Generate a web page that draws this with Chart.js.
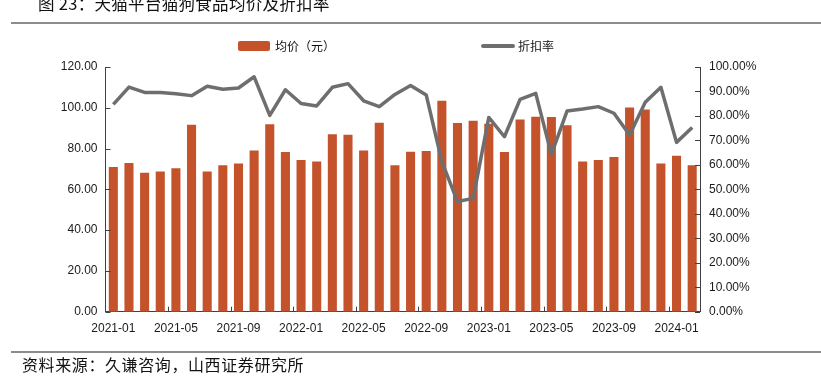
<!DOCTYPE html>
<html>
<head>
<meta charset="utf-8">
<script src="https://cdn.jsdelivr.net/npm/chart.js@4.4.1/dist/chart.umd.min.js"></script>
<style>
	body { margin: 0; background: #fff; }
	#wrap { position: relative; width: 821px; height: 386px; overflow: hidden; font-family: "Noto Sans CJK SC", "Liberation Sans", sans-serif; }
	#box { position: absolute; left: 0; top: 0; width: 821px; height: 386px; }
	.txt { position: absolute; white-space: nowrap; color: #111; }
	.rule { position: absolute; left: 11px; right: 0; height: 2px; background: #8c8c8c; }
</style>
</head>
<body>
<div id="wrap">
	<div id="box"><canvas id="myChart"></canvas></div>
	<div class="txt" id="title" style="left:38px; top:-6px; font-size:16.5px; line-height:18px; letter-spacing:0.3px;">图 23：天猫平台猫狗食品均价及折扣率</div>
	<div class="rule" style="top:22px;"></div>
	<div style="position:absolute; left:238px; top:41px; width:32px; height:10px; background:#C4532C; border-radius:2px;"></div>
	<div class="txt" style="left:275px; top:38px; font-size:12px; line-height:16px;">均价（元）</div>
	<div style="position:absolute; left:481px; top:44px; width:34px; height:4px; background:#6E6E6E; border-radius:2px;"></div>
	<div class="txt" style="left:518px; top:38px; font-size:12px; line-height:16px;">折扣率</div>
	<div class="rule" style="top:351px;"></div>
	<div class="txt" style="left:22px; top:353px; font-size:16px; line-height:22px; letter-spacing:0.6px;">资料来源：久谦咨询，山西证券研究所</div>
</div>
<script>
var months = ['2021-01','2021-02','2021-03','2021-04','2021-05','2021-06','2021-07','2021-08','2021-09','2021-10','2021-11','2021-12',
	'2022-01','2022-02','2022-03','2022-04','2022-05','2022-06','2022-07','2022-08','2022-09','2022-10','2022-11','2022-12',
	'2023-01','2023-02','2023-03','2023-04','2023-05','2023-06','2023-07','2023-08','2023-09','2023-10','2023-11','2023-12',
	'2024-01','2024-02'];

// 均价（元）
var avgPrice = [70.9, 72.9, 68.2, 68.7, 70.3, 91.7, 68.7, 71.8, 72.7, 79.0, 91.9, 78.3,
	74.4, 73.7, 87.0, 86.8, 79.0, 92.7, 71.8, 78.5, 78.8, 103.5, 92.5, 93.7,
	92.2, 78.3, 94.2, 95.6, 95.5, 91.4, 73.7, 74.4, 75.9, 100.2, 99.2, 72.7,
	76.5, 71.8];

// 折扣率 (%)
var discount = [84.7, 91.8, 89.6, 89.6, 89.1, 88.3, 92.1, 90.9, 91.4, 96.0, 80.2, 90.7,
	85.1, 84.1, 91.7, 93.2, 86.2, 83.8, 88.8, 92.4, 88.6, 61.3, 45.0, 46.3,
	79.4, 71.5, 86.8, 89.2, 64.3, 82.0, 82.8, 83.8, 81.1, 72.2, 85.6, 91.7,
	69.2, 75.3];

var leftTicks = [0, 20, 40, 60, 80, 100, 120];
var rightTicks = [0, 10, 20, 30, 40, 50, 60, 70, 80, 90, 100];

var barColor = '#C4532C';
var lineColor = '#6E6E6E';
var axisColor = '#404040';
var tickFont = { family: '"Liberation Sans", Arial, sans-serif', size: 12 };

// ticks drawn inward, like the original
var innerTicks = {
	id: 'innerTicks',
	afterDatasetsDraw: function(chart) {
		var ctx = chart.ctx;
		var area = chart.chartArea;
		var sx = chart.scales.x, sy = chart.scales.y, sy1 = chart.scales.y1;
		var half = (sx.getPixelForValue(1) - sx.getPixelForValue(0)) / 2;
		ctx.save();
		ctx.strokeStyle = axisColor;
		ctx.lineWidth = 1;
		ctx.beginPath();
		leftTicks.forEach(function(v) {
			var py = Math.round(sy.getPixelForValue(v)) + 0.5;
			ctx.moveTo(area.left, py);
			ctx.lineTo(area.left + 5, py);
		});
		rightTicks.forEach(function(v) {
			var py = Math.round(sy1.getPixelForValue(v)) + 0.5;
			ctx.moveTo(area.right, py);
			ctx.lineTo(area.right - 5, py);
		});
		for (var i = 4; i < months.length; i += 4) {
			var px = Math.round(sx.getPixelForValue(i) - half) + 0.5;
			ctx.moveTo(px, area.bottom);
			ctx.lineTo(px, area.bottom - 5);
		}
		ctx.stroke();
		ctx.restore();
	}
};

var chart = new Chart(document.getElementById('myChart').getContext('2d'), {
	type: 'bar',
	data: {
		labels: months,
		datasets: [{
			type: 'line',
			label: '折扣率',
			data: discount,
			yAxisID: 'y1',
			borderColor: lineColor,
			borderWidth: 3.5,
			pointRadius: 0,
			tension: 0,
			borderJoinStyle: 'round',
			order: 0
		}, {
			type: 'bar',
			label: '均价（元）',
			data: avgPrice,
			yAxisID: 'y',
			backgroundColor: barColor,
			barPercentage: 0.58,
			categoryPercentage: 1,
			order: 1
		}]
	},
	options: {
		responsive: true,
		maintainAspectRatio: false,
		animation: false,
		layout: { padding: { top: 67, bottom: 0, left: 0, right: 0 } },
		plugins: { legend: { display: false }, tooltip: { enabled: false } },
		scales: {
			x: {
				offset: true,
				grid: { display: false, drawTicks: false },
				border: { display: true, color: axisColor, width: 1 },
				ticks: {
					autoSkip: false, maxRotation: 0, padding: 10, color: '#1a1a1a', font: tickFont,
					callback: function(v, i) { return i % 4 === 0 ? months[i] : ''; }
				},
				afterFit: function(s) { s.height = 74.3; }
			},
			y: {
				position: 'left',
				min: 0, max: 120,
				grid: { display: false, drawTicks: false },
				border: { display: true, color: axisColor, width: 1 },
				ticks: { stepSize: 20, padding: 8, color: '#1a1a1a', font: tickFont,
					callback: function(v) { return v.toFixed(2); } },
				afterFit: function(s) { s.width = 105.5; }
			},
			y1: {
				position: 'right',
				min: 0, max: 100,
				grid: { display: false, drawTicks: false },
				border: { display: true, color: axisColor, width: 1 },
				ticks: { stepSize: 10, padding: 9, color: '#1a1a1a', font: tickFont,
					callback: function(v) { return v.toFixed(2) + '%'; } },
				afterFit: function(s) { s.width = 121; }
			}
		}
	},
	plugins: [innerTicks]
});
</script>
</body>
</html>
